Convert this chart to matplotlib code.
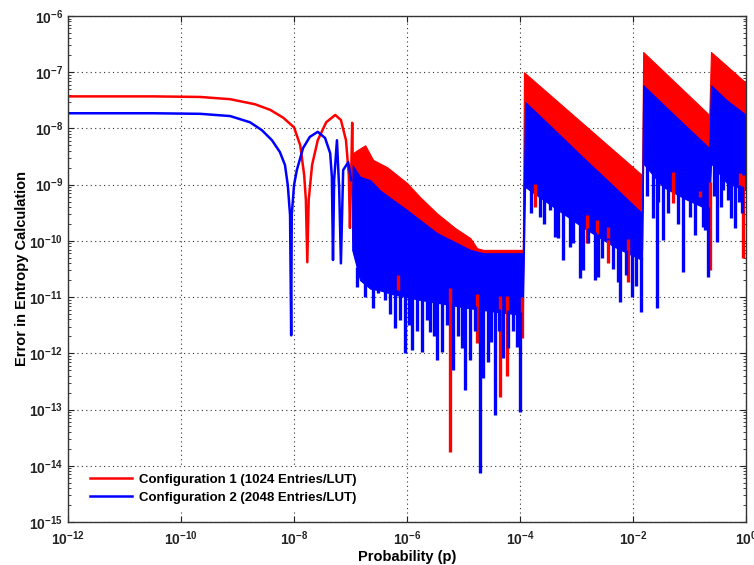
import numpy as np
import matplotlib
matplotlib.use('Agg')
import matplotlib.pyplot as plt
from matplotlib.ticker import FixedLocator, LogLocator, NullLocator, NullFormatter, FuncFormatter

plt.rcParams['font.family'] = 'Liberation Sans'
plt.rcParams['font.weight'] = 'bold'
plt.rcParams['mathtext.fontset'] = 'custom'
plt.rcParams['mathtext.rm'] = 'Liberation Sans:bold'
plt.rcParams['mathtext.bf'] = 'Liberation Sans:bold'

# all values below are log10 exponents

# config 1 (red) smooth part, small p
red_smooth_p = [-12, -10.5, -9.66, -9.13, -8.69, -8.42, -8.19, -8.0, -7.89, -7.82, -7.79, -7.765,
                -7.74, -7.68, -7.58, -7.43, -7.27, -7.17, -7.08, -7.03, -7.01, -6.99, -6.97, -6.96]
red_smooth_e = [-7.43, -7.43, -7.44, -7.48, -7.57, -7.67, -7.81, -7.98, -8.30, -8.83, -9.27, -10.38,
                -9.27, -8.65, -8.21, -7.89, -7.76, -7.85, -8.21, -8.83, -9.77, -8.9, -7.90, -8.6]

# config 1 dense band (upper envelope / solid lower edge)
red_band_p = [-6.97, -6.87, -6.74, -6.60, -6.35, -6.00, -5.77, -5.47, -5.15, -4.88, -4.76, -4.65, -3.95,
              -3.93, -1.84, -1.82, -0.65, -0.62, 0.0]
red_band_top = [-8.45, -8.38, -8.30, -8.56, -8.69, -8.97, -9.22, -9.51, -9.77, -9.95, -10.13, -10.16, -10.16,
                -7.00, -8.83, -6.64, -7.76, -6.64, -7.19]
red_band_bot = [-9.99, -10.2, -10.4, -10.5, -10.6, -10.7, -10.79, -10.85, -10.9, -10.96, -11.0, -11.0, -11.05,
                -8.92, -10.16, -8.47, -9.27, -8.47, -8.92]

# config 1 downward spikes (tips)
red_spike_p = [-6.16, -5.24, -4.76, -4.35, -4.23, -3.96, -3.73, -2.81, -2.64, -2.44, -2.09,
               -1.29, -0.81, -0.64, -0.11, -0.05]
red_spike_e = [-10.88, -13.76, -11.82, -12.78, -12.41, -11.73, -9.40, -10.04, -10.11, -10.39, -10.73,
               -9.33, -9.22, -10.52, -9.27, -10.31]

# config 2 (blue) smooth part
blue_smooth_p = [-12, -10.5, -9.66, -9.13, -8.78, -8.57, -8.39, -8.25, -8.16, -8.11, -8.07, -8.05, -8.04,
                 -8.0, -7.95, -7.84, -7.72, -7.58, -7.45, -7.36, -7.33, -7.31, -7.29, -7.24, -7.20,
                 -7.17, -7.13, -7.04, -6.99]
blue_smooth_e = [-7.73, -7.73, -7.74, -7.78, -7.89, -8.03, -8.21, -8.42, -8.65, -9.01, -9.54, -11.68, -9.54,
                 -9.01, -8.74, -8.35, -8.15, -8.06, -8.17, -8.44, -8.86, -10.34, -8.92, -8.21, -9.09,
                 -10.40, -8.74, -8.60, -8.92]

blue_band_p = [-6.97, -6.83, -6.65, -6.48, -6.25, -6.00, -5.77, -5.47, -4.88, -4.65, -3.95,
               -3.91, -3.50, -2.90, -2.32, -1.84, -1.82, -1.47, -1.04, -0.65, -0.62, -0.34, 0.0]
blue_band_top = [-8.65, -8.86, -8.92, -9.10, -9.27, -9.45, -9.63, -9.86, -10.16, -10.22, -10.22,
                 -7.53, -7.92, -8.50, -9.05, -9.51, -7.23, -7.57, -7.98, -8.35, -7.23, -7.50, -7.76]
blue_band_bot = [-10.16, -10.7, -10.85, -10.88, -10.95, -11.0, -11.05, -11.1, -11.2, -11.23, -11.32,
                 -9.04, -9.33, -9.75, -10.11, -10.34, -8.62, -9.04, -9.27, -9.45, -8.62, -8.97, -9.10]

blue_spike_p = [-6.88, -6.75, -6.60, -6.51, -6.39, -6.30, -6.21, -6.12, -6.04, -5.97, -5.91, -5.82,
                -5.73, -5.65, -5.59, -5.53, -5.47, -5.38, -5.30, -5.19, -5.10, -5.03, -4.97,
                -4.88, -4.80, -4.71, -4.65, -4.57, -4.52, -4.44, -4.37, -4.30, -4.22, -4.12, -4.05, -4.0,
                -3.80, -3.65, -3.58, -3.47, -3.38, -3.33, -3.24, -3.12, -3.06, -2.94, -2.88, -2.80,
                -2.67, -2.62, -2.55, -2.44, -2.36, -2.27, -2.23, -2.12, -2.02, -1.95, -1.86,
                -1.75, -1.65, -1.58, -1.55, -1.47, -1.38, -1.20, -1.12, -0.99, -0.90, -0.76, -0.72, -0.67,
                -0.56, -0.51, -0.45, -0.40, -0.32, -0.27, -0.19, -0.12, -0.07]
blue_spike_e = [-10.82, -11.0, -11.2, -10.93, -11.05, -11.3, -11.55, -11.4, -12.0, -11.5, -11.94, -11.6,
                -11.98, -11.4, -11.62, -11.7, -12.12, -11.98, -11.5, -12.30, -11.7, -11.9, -12.65,
                -12.12, -11.6, -14.13, -12.44, -12.16, -11.8, -13.10, -11.6, -12.09, -11.9, -11.6, -11.89, -13.05,
                -9.5, -9.58, -9.7, -9.45, -9.93, -9.95, -10.34, -10.1, -10.04, -10.66, -10.52, -10.04,
                -10.70, -10.64, -10.3, -9.95, -10.5, -10.73, -11.09, -10.6, -11.0, -10.8, -11.27,
                -9.2, -9.6, -11.20, -9.3, -9.99, -9.5, -9.7, -10.56, -9.58, -9.9, -9.75, -9.8, -10.64,
                -9.2, -10.02, -9.4, -9.1, -9.27, -9.6, -9.77, -9.3, -9.51]

RED = '#ff0000'
BLUE = '#0000ff'

fig = plt.figure(figsize=(7.54, 5.65), dpi=100)
ax = fig.add_axes([0.0902, 0.0761, 0.8992, 0.8956])


def draw(smooth_p, smooth_e, band_p, band_top, band_bot, spike_p, spike_e, color, label):
    ax.plot(10.0 ** np.array(smooth_p), 10.0 ** np.array(smooth_e), color=color, lw=1.8, label=label)
    bp = 10.0 ** np.array(band_p)
    ax.fill_between(bp, 10.0 ** np.array(band_bot), 10.0 ** np.array(band_top),
                    color=color, lw=0.8, edgecolor=color)
    start = np.interp(spike_p, band_p, band_bot)
    ax.vlines(10.0 ** np.array(spike_p), 10.0 ** np.array(spike_e), 10.0 ** (start + 0.05),
              color=color, lw=2.4)


draw(red_smooth_p, red_smooth_e, red_band_p, red_band_top, red_band_bot,
     red_spike_p, red_spike_e, RED, 'Configuration 1 (1024 Entries/LUT)')
draw(blue_smooth_p, blue_smooth_e, blue_band_p, blue_band_top, blue_band_bot,
     blue_spike_p, blue_spike_e, BLUE, 'Configuration 2 (2048 Entries/LUT)')

ax.set_xscale('log')
ax.set_yscale('log')
ax.set_xlim(1e-12, 1)
ax.set_ylim(1e-15, 1e-6)

fmt = FuncFormatter(lambda v, pos: r'$10^{%d}$' % round(np.log10(v)))
ax.xaxis.set_major_locator(FixedLocator(10.0 ** np.arange(-12, 1, 2)))
ax.xaxis.set_minor_locator(NullLocator())
ax.xaxis.set_major_formatter(fmt)
ax.yaxis.set_major_locator(FixedLocator(10.0 ** np.arange(-15, -5)))
ax.yaxis.set_minor_locator(LogLocator(base=10, subs=np.arange(2, 10), numticks=30))
ax.yaxis.set_minor_formatter(NullFormatter())
ax.yaxis.set_major_formatter(fmt)

ax.tick_params(which='both', direction='in', top=True, right=True, labelsize=10, colors='#222222')
ax.tick_params(which='major', length=4)
ax.tick_params(which='minor', length=2.5)
ax.tick_params(axis='x', pad=5)
for s in ax.spines.values():
    s.set_color('#333333')
    s.set_linewidth(1.0)

ax.set_axisbelow(True)
ax.grid(True, which='major', color='#333333', linestyle=(0, (1, 3)), linewidth=0.8)

ax.set_xlabel('Probability (p)', fontsize=10.5, fontweight='bold', labelpad=2)
ax.set_ylabel('Error in Entropy Calculation', fontsize=10.5, fontweight='bold')
ax.yaxis.set_label_coords(-0.057, 0.5)

leg = ax.legend(loc='lower left', bbox_to_anchor=(0.015, 0.012), frameon=True, fontsize=9.5,
                handlelength=3.2, borderpad=0.4, labelspacing=0.45, handletextpad=0.5)
leg.get_frame().set_edgecolor('white')
leg.get_frame().set_facecolor('white')
leg.get_frame().set_alpha(1)
leg.get_frame().set_boxstyle('square', pad=0)

fig.savefig('out.png', dpi=100)
